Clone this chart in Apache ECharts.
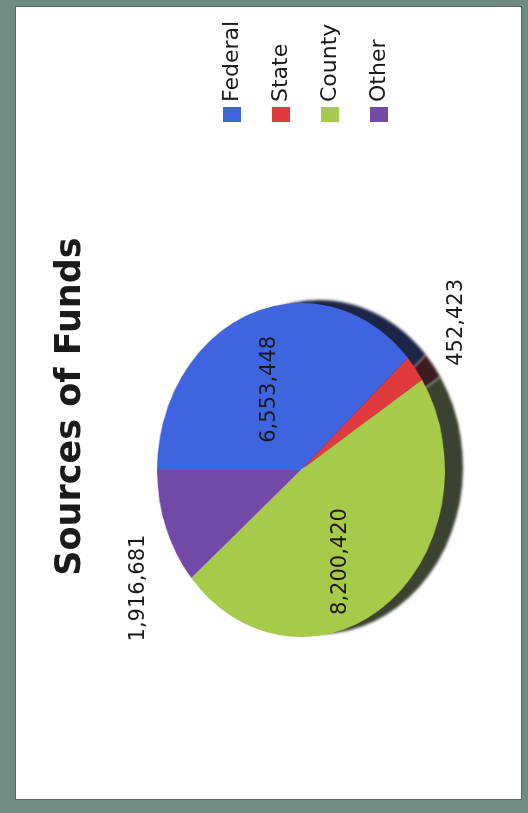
<!DOCTYPE html>
<html>
<head>
<meta charset="utf-8">
<script src="https://cdn.jsdelivr.net/npm/echarts@6/dist/echarts.min.js"></script>
<style>
  html, body { margin: 0; padding: 0; background: #fff; }
  #page { position: relative; width: 528px; height: 813px; background: #6f8c82; overflow: hidden; }
  #inner { position: absolute; left: 15px; top: 6px; width: 505px; height: 792px; background: #fff; border: 1px solid #5d6663; }
  #rot { position: absolute; left: 0; top: 0; width: 813px; height: 528px; transform-origin: 0 0; transform: translateY(813px) rotate(-90deg); }
  #pie { position: absolute; left: 0; top: 0; width: 813px; height: 528px; transform-origin: 343px 301px; transform: scaleY(0.862); }
  #main { position: absolute; left: 0; top: 0; width: 813px; height: 528px; }
</style>
</head>
<body>
<div id="page">
  <div id="inner"></div>
  <div id="rot">
    <div id="pie"></div>
    <div id="main"></div>
  </div>
</div>
<script>
// ---- data ----
const title = 'Sources of Funds';
const categories = ['Federal', 'State', 'County', 'Other'];
const values = [6553448, 452423, 8200420, 1916681];
const colors = ['#3f64e0', '#e03a3e', '#a6cb4b', '#7249a6'];
const shadowColors = ['#1d2546', '#3b1c22', '#3c4230', 'rgba(0,0,0,0)'];
const labelPositions = ['inside', 'outside', 'inside', 'outside'];

// ---- layout / style (not data) ----
const PIE_CENTER = [343, 301];
const PIE_RADIUS = 167;
const labelStyleTweaks = {
  State: { label: { offset: [-6, 18] } },
  County: { label: { offset: [-22, -12] } }
};

function fmt(v) { return String(v).replace(/\B(?=(\d{3})+(?!\d))/g, ','); }

// colored pie (vertically squashed by CSS to an ellipse)
const pieChart = echarts.init(document.getElementById('pie'), null, { renderer: 'canvas' });
pieChart.setOption({
  animation: false,
  series: [{
    type: 'pie',
    center: PIE_CENTER,
    radius: PIE_RADIUS,
    startAngle: 90,
    clockwise: true,
    silent: true,
    label: { show: false },
    labelLine: { show: false },
    data: categories.map((n, i) => ({
      name: n,
      value: values[i],
      itemStyle: {
        color: colors[i],
        borderWidth: 0,
        shadowColor: shadowColors[i],
        shadowBlur: 3,
        shadowOffsetX: 3,
        shadowOffsetY: 21
      }
    }))
  }]
});

// text layer: title, legend, value labels
const mainChart = echarts.init(document.getElementById('main'), null, { renderer: 'canvas' });
mainChart.setOption({
  animation: false,
  title: {
    text: title,
    left: 'center',
    top: 48,
    textStyle: { fontFamily: 'DejaVu Sans', fontWeight: 'bold', fontSize: 35, color: '#1a1a1a' }
  },
  legend: {
    orient: 'vertical',
    left: 686,
    top: 216,
    itemWidth: 15,
    itemHeight: 18,
    itemGap: 27,
    icon: 'rect',
    selectedMode: false,
    data: categories.map((n, i) => ({ name: n, itemStyle: { color: colors[i] } })),
    textStyle: { fontFamily: 'DejaVu Sans', fontSize: 22, color: '#1a1a1a' }
  },
  series: [{
    type: 'pie',
    center: PIE_CENTER,
    radius: PIE_RADIUS,
    startAngle: 90,
    clockwise: true,
    silent: true,
    avoidLabelOverlap: false,
    itemStyle: { color: 'rgba(0,0,0,0)', borderWidth: 0 },
    labelLine: { show: false, length: 6, length2: 0 },
    label: {
      show: true,
      fontFamily: 'DejaVu Sans',
      fontSize: 21,
      color: '#1a1a1a',
      formatter: p => fmt(p.value)
    },
    data: categories.map((n, i) => {
      const t = labelStyleTweaks[n] || {};
      return {
        name: n,
        value: values[i],
        label: Object.assign({ position: labelPositions[i] }, t.label || {})
      };
    })
  }]
});
</script>
</body>
</html>
